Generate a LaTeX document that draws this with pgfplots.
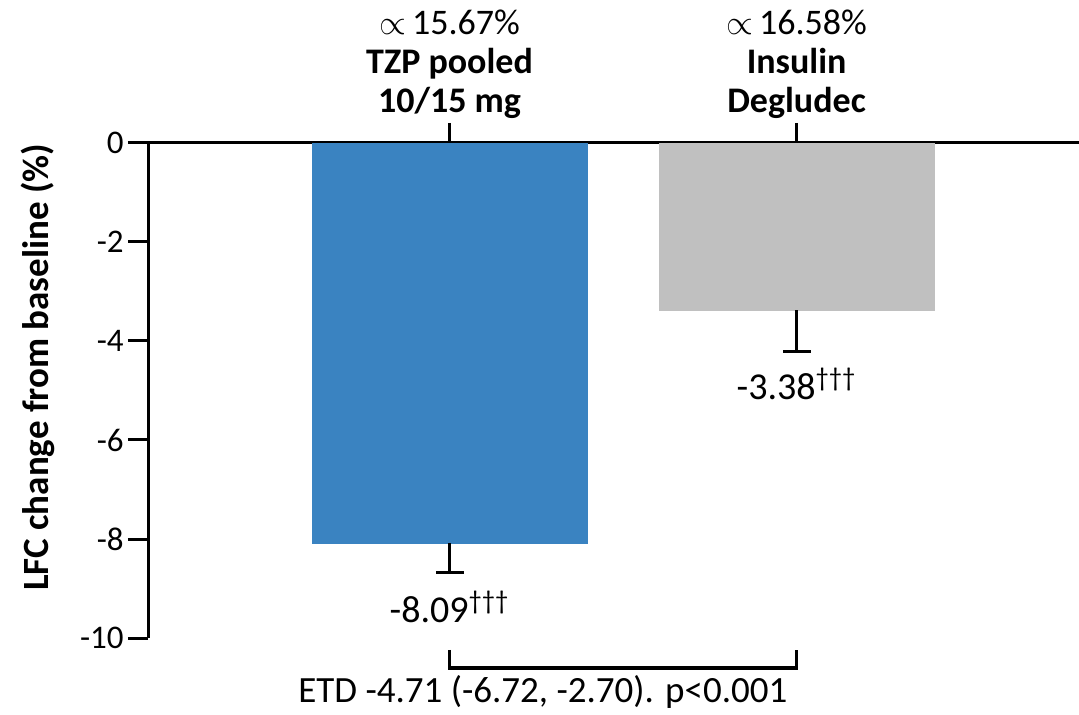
\documentclass[border=0pt]{standalone}
\usepackage{fontspec}
\setmainfont{Carlito}
\usepackage{pgfplots}
\pgfplotsset{compat=1.18}
\definecolor{barblue}{RGB}{58,131,193}
\definecolor{bargray}{RGB}{192,192,192}
\begin{document}
\begin{tikzpicture}
\useasboundingbox (0,0) rectangle (539.5pt,-357.5pt);
\begin{axis}[
  at={(74pt,-71.5pt)}, anchor=north west,
  scale only axis, width=465.5pt, height=247.5pt,
  xmin=0.131, xmax=2.814, ymin=-10, ymax=0,
  axis x line*=top, axis y line*=left,
  axis line style={line width=1.5pt, black},
  tick align=outside, major tick length=10pt,
  tick style={line width=1.5pt, black},
  xtick={1,2},
  xticklabels={{$\propto$\,15.67\%\\\textbf{TZP pooled}\\\textbf{10/15 mg}},{$\propto$\,16.58\%\\\textbf{Insulin}\\\textbf{Degludec}}},
  xticklabel style={align=center, font=\fontsize{18}{19.5}\selectfont, inner sep=2pt},
  ytick={-10,-8,-6,-4,-2,0},
  yticklabels={-10,-8,-6,-4,-2,0},
  yticklabel style={font=\fontsize{16.5}{18}\selectfont, inner sep=2pt},
  ylabel={\textbf{LFC change from baseline (\%)}},
  ylabel style={at={(axis description cs:-0.118,0.547)}, anchor=center, rotate=0, font=\fontsize{18.5}{20}\selectfont},
  clip=false,
  ybar, bar width=137.5pt,
]
\addplot[fill=barblue, draw=barblue, line width=0.3pt, bar shift=0pt,
  error bars/.cd, y dir=minus, y explicit,
  error bar style={line width=1.5pt, draw=black, solid},
  error mark=|,
  error mark options={line width=1.5pt, draw=black, mark size=7pt}]
  coordinates {(1,-8.09) -= (0,0.58)};
\addplot[fill=bargray, draw=bargray, line width=0.3pt, bar shift=0pt,
  error bars/.cd, y dir=minus, y explicit,
  error bar style={line width=1.5pt, draw=black, solid},
  error mark=|,
  error mark options={line width=1.5pt, draw=black, mark size=7pt}]
  coordinates {(2,-3.38) -= (0,0.84)};
\node[font=\fontsize{19}{20}\selectfont] at (axis cs:1,-9.37) {-8.09\textsuperscript{†††}};
\node[font=\fontsize{19}{20}\selectfont] at (axis cs:2,-4.87) {-3.38\textsuperscript{†††}};
\draw[line width=1.75pt, black] (axis cs:1,-10.24) -- (axis cs:1,-10.61) -- (axis cs:2,-10.61) -- (axis cs:2,-10.24);
\node[font=\fontsize{18.5}{20}\selectfont] at (axis cs:1.269,-11.09) {ETD -4.71 (-6.72, -2.70). p<0.001};
\end{axis}
\end{tikzpicture}
\end{document}
